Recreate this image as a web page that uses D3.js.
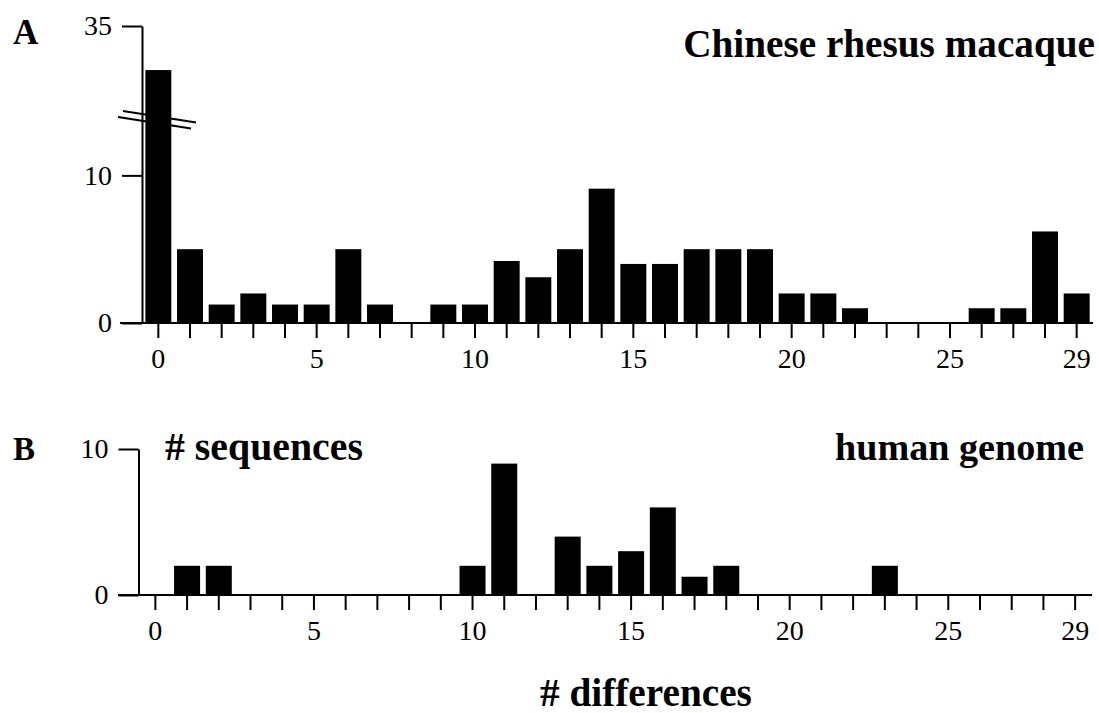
<!DOCTYPE html>
<html>
<head>
<meta charset="utf-8">
<script src="https://cdnjs.cloudflare.com/ajax/libs/d3/7.8.5/d3.min.js"></script>
<style>
body { margin: 0; background: #fff; }
svg { display: block; font-family: "Liberation Serif", "Times New Roman", serif; }
</style>
</head>
<body>
<svg id="chart"></svg>
<script>
const differences = [0,1,2,3,4,5,6,7,8,9,10,11,12,13,14,15,16,17,18,19,20,21,22,23,24,25,26,27,28,29];
const rhesusCounts = [32, 5, 1.25, 2, 1.25, 1.25, 5, 1.25, 0, 1.25, 1.25, 4.2, 3.1, 5, 9.1, 4, 4, 5, 5, 5, 2, 2, 1, 0, 0, 0, 1, 1, 6.2, 2];
const humanCounts = [0, 2, 2, 0, 0, 0, 0, 0, 0, 0, 2, 9, 0, 4, 2, 3, 6, 1.25, 2, 0, 0, 0, 0, 2, 0, 0, 0, 0, 0, 0];
const xTickLabels = [0, 5, 10, 15, 20, 25, 29];
const rhesusYTicks = [0, 10, 35];
const humanYTicks = [0, 10];
// panel A y axis is broken: values between these two are skipped
const rhesusBreak = [13.75, 28.6];

const width = 1099, height = 713;
const svg = d3.select("#chart").attr("width", width).attr("height", height);

// scales
const xA = d3.scaleBand().domain(differences).range([142.5, 1092.5]).paddingInner(0.18).paddingOuter(0.09);
const yA = d3.scaleLinear().domain([0, rhesusBreak[0], rhesusBreak[1], 35]).range([323, 120, 120, 26]);
const xB = d3.scaleBand().domain(differences).range([139.5, 1091]).paddingInner(0.18).paddingOuter(0.09);
const yB = d3.scaleLinear().domain([0, 10]).range([595, 449]);

function fitText(sel, target) {
  const w = sel.node().getComputedTextLength();
  const fs = parseFloat(sel.attr("font-size"));
  sel.attr("font-size", fs * target / w);
}

function drawPanel(opts) {
  const g = svg.append("g");
  const x = opts.x, y = opts.y;
  const base = y(0);

  g.selectAll("rect.bar")
    .data(opts.counts.map((c, i) => ({d: differences[i], c: c})).filter(p => p.c > 0))
    .enter()
    .append("rect")
    .attr("class", "bar")
    .attr("x", p => x(p.d))
    .attr("width", x.bandwidth())
    .attr("y", p => y(p.c))
    .attr("height", p => base - y(p.c))
    .attr("fill", "#000");

  // baseline
  g.append("line")
    .attr("x1", opts.baseLeft).attr("x2", opts.baseRight)
    .attr("y1", base).attr("y2", base)
    .attr("stroke", "#000").attr("stroke-width", 2);

  // x ticks
  const xAxis = g.append("g")
    .attr("transform", "translate(0," + (base + 1) + ")")
    .call(d3.axisBottom(x).tickValues(differences).tickSize(14)
      .tickFormat(d => xTickLabels.includes(d) ? d : ""));
  xAxis.select(".domain").remove();
  xAxis.selectAll("line").attr("stroke-width", 2);
  xAxis.selectAll("text")
    .attr("y", 44).attr("dy", 0)
    .attr("font-size", 28).attr("font-family", "Liberation Serif").attr("fill", "#000");

  // y axis
  const yAxis = g.append("g")
    .attr("transform", "translate(" + opts.axisX + ",0)")
    .call(d3.axisLeft(y).tickValues(opts.yTicks).tickSize(20).tickPadding(10).tickSizeOuter(0));
  yAxis.selectAll("line, path").attr("stroke-width", 2);
  yAxis.selectAll("text")
    .attr("font-size", 28).attr("font-family", "Liberation Serif").attr("fill", "#000");
  return g;
}

const gA = drawPanel({x: xA, y: yA, counts: rhesusCounts, yTicks: rhesusYTicks,
  axisX: 142, baseLeft: 120, baseRight: 1093});
const gB = drawPanel({x: xB, y: yB, counts: humanCounts, yTicks: humanYTicks,
  axisX: 138.5, baseLeft: 118, baseRight: 1092});

// break marks across the axis and first bar
const yBrk = yA(rhesusBreak[0]);
[[-19, -9], [-24, -3]].forEach(o => {
  gA.append("line")
    .attr("x1", 142 + o[0]).attr("y1", yBrk + o[1])
    .attr("x2", 142 + o[0] + 73).attr("y2", yBrk + o[1] + 11.6)
    .attr("stroke", "#000").attr("stroke-width", 2);
});

// panel letters and labels
svg.append("text").attr("x", 13).attr("y", 44)
  .attr("font-size", 35).attr("font-weight", "bold").text("A");
svg.append("text").attr("x", 13).attr("y", 460)
  .attr("font-size", 33).attr("font-weight", "bold").text("B");

const t1 = svg.append("text").attr("x", 1095).attr("y", 57).attr("text-anchor", "end")
  .attr("font-size", 36).attr("font-weight", "bold").text("Chinese rhesus macaque");
fitText(t1, 412);
const t2 = svg.append("text").attr("x", 165).attr("y", 460)
  .attr("font-size", 34).attr("font-weight", "bold").text("# sequences");
fitText(t2, 198);
const t3 = svg.append("text").attr("x", 1084).attr("y", 460).attr("text-anchor", "end")
  .attr("font-size", 34).attr("font-weight", "bold").text("human genome");
fitText(t3, 249);
const t4 = svg.append("text").attr("x", 540).attr("y", 706)
  .attr("font-size", 34).attr("font-weight", "bold").text("# differences");
fitText(t4, 212);
</script>
</body>
</html>
